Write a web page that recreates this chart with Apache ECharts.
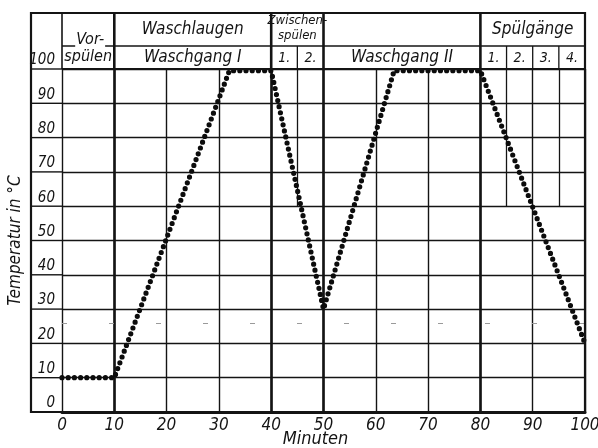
<!DOCTYPE html>
<html>
<head>
<meta charset="utf-8">
<script src="https://cdn.jsdelivr.net/npm/echarts@6/dist/echarts.min.js"></script>
<style>
  html, body { margin: 0; padding: 0; background: #fff; }
  #chart { width: 598px; height: 448px; }
</style>
</head>
<body>
<div id="chart"></div>
<script>
// Temperature course of the wash programme (minutes -> °C)
const minutes = [0, 10, 32, 40, 50, 63.5, 80, 100];
const temps   = [10, 10, 99.5, 99.5, 30, 99.5, 99.5, 20];

// Axis ticks
const xTicks = [0, 10, 20, 30, 40, 50, 60, 70, 80, 90, 100];
const yTicks = [0, 10, 20, 30, 40, 50, 60, 70, 80, 90, 100];

// Phase boundaries (minutes) that get a heavy rule
const phaseBounds = [10, 40, 50, 80];
// Sub-step boundaries inside rinse phases
const stepBounds = [45, 85, 95];
const stepLineBottom = 60;

// Header table: top band labels
const headTop = [
  { from: 10, to: 40, lines: ['Waschlaugen'] },
  { from: 40, to: 50, lines: ['Zwischen-', 'spülen'] },
  { from: 80, to: 100, lines: ['Spülgänge'] }
];
// Header table: lower band labels
const headBottom = [
  { from: 10, to: 40, text: 'Waschgang I' },
  { from: 40, to: 45, text: '1.' },
  { from: 45, to: 50, text: '2.' },
  { from: 50, to: 80, text: 'Waschgang II' },
  { from: 80, to: 85, text: '1.' },
  { from: 85, to: 90, text: '2.' },
  { from: 90, to: 95, text: '3.' },
  { from: 95, to: 100, text: '4.' }
];
// Column spanning both header bands
const headSpan = { from: 0, to: 10, lines: ['Vor-', 'spülen'] };
// Full-height header dividers and lower-band-only dividers
const headFullDiv = [0, 10, 40, 50, 80, 100];
const headLowDiv = [45, 85, 90, 95];

const FONT = '"Liberation Sans Narrow", "DejaVu Sans Condensed", "Liberation Sans", sans-serif';
const INK = '#141414';

// Layout of the table around the plot
const frameLeft = 31;
const frameTop = 13;
const headMid = 46;

const chart = echarts.init(document.getElementById('chart'), null, { renderer: 'canvas' });

const series = [
  {
    type: 'line',
    data: minutes.map((m, i) => [m, temps[i]]),
    symbol: 'none',
    lineStyle: { color: '#0c0c0c', width: 5.2, type: [0, 6.2], cap: 'round' },
    z: 5,
    markLine: {
      silent: true,
      symbol: 'none',
      label: { show: false },
      animation: false,
      data: [
        ...phaseBounds.map(v => ({ xAxis: v, lineStyle: { color: INK, width: 2.6, type: 'solid' } })),
        ...stepBounds.map(v => [
          { coord: [v, 100], lineStyle: { color: INK, width: 1.3, type: 'solid' } },
          { coord: [v, stepLineBottom] }
        ]),
        { yAxis: 26, lineStyle: { color: '#9a9a9a', width: 1, type: [5, 42] } }
      ]
    }
  }
];

chart.setOption({
  animation: false,
  backgroundColor: '#fff',
  grid: { left: 62, right: 13, top: 69, bottom: 36, containLabel: false, outerBoundsMode: 'none' },
  xAxis: {
    type: 'value', min: 0, max: 100, interval: 10,
    axisLine: { show: true, lineStyle: { color: INK, width: 3 } },
    axisTick: { show: false },
    splitLine: { show: true, lineStyle: { color: INK, width: 1.4 } },
    axisLabel: {
      margin: 5, color: INK, fontSize: 17, fontStyle: 'italic', fontFamily: FONT,
      customValues: xTicks
    },
    name: 'Minuten', nameLocation: 'middle', nameGap: 18, nameMoveOverlap: false,
    nameTextStyle: { color: INK, fontSize: 18, fontStyle: 'italic', fontFamily: FONT, padding: [0, 16, 0, 0] }
  },
  yAxis: {
    type: 'value', min: 0, max: 100, interval: 10,
    axisLine: { show: false },
    axisTick: { show: false },
    splitLine: { show: true, lineStyle: { color: INK, width: 1.4 } },
    axisLabel: {
      margin: 7, color: INK, fontSize: 15, fontStyle: 'italic', fontFamily: FONT,
      verticalAlign: 'bottom', padding: [0, 0, 1, 0],
      customValues: yTicks
    },
    name: 'Temperatur in °C', nameLocation: 'middle', nameGap: 38, nameMoveOverlap: false,
    nameTextStyle: { color: INK, fontSize: 17, fontStyle: 'italic', fontFamily: FONT }
  },
  series
});

// Header table and outer frame, positioned from the axis scales
function px(v) { return chart.convertToPixel({ xAxisIndex: 0 }, v); }
function py(v) { return chart.convertToPixel({ yAxisIndex: 0 }, v); }

const plotTop = py(100);
const plotBottom = py(0);
const plotLeft = px(0);
const plotRight = px(100);
const g = [];

function hline(x1, x2, y, w) {
  g.push({ type: 'line', silent: true, z: 10, shape: { x1, y1: y, x2, y2: y }, style: { stroke: INK, lineWidth: w } });
}
function vline(x, y1, y2, w) {
  g.push({ type: 'line', silent: true, z: 10, shape: { x1: x, y1, x2: x, y2 }, style: { stroke: INK, lineWidth: w } });
}
function label(x, y, text, size, extra) {
  g.push({
    type: 'text', silent: true, z: 20, x, y,
    style: Object.assign({
      text, fill: INK, font: 'italic ' + size + 'px ' + FONT,
      align: 'center', verticalAlign: 'middle'
    }, extra || {})
  });
}

// horizontal rules across the tick-label column
yTicks.forEach(v => hline(frameLeft, plotLeft, py(v), 1.4));
// heavier rule under the header
hline(plotLeft, plotRight, plotTop, 2);
// middle rule of the header
hline(plotLeft, plotRight, headMid, 1.4);

// header dividers
headFullDiv.forEach(v => vline(px(v), frameTop, plotTop, (v === 0 || v === 100) ? 1.6 : 2.6));
headLowDiv.forEach(v => vline(px(v), headMid, plotTop, 1.3));

// outer frame
g.push({
  type: 'rect', silent: true, z: 11,
  shape: { x: frameLeft, y: frameTop, width: plotRight - frameLeft, height: plotBottom - frameTop },
  style: { fill: null, stroke: INK, lineWidth: 2.2 }
});

// header text
headTop.forEach(h => {
  const cx = (px(h.from) + px(h.to)) / 2;
  if (h.lines.length === 1) {
    label(cx, 30, h.lines[0], 17);
  } else {
    label(cx, 21, h.lines[0], 13);
    label(cx, 36, h.lines[1], 13);
  }
});
headBottom.forEach(h => {
  const cx = (px(h.from) + px(h.to)) / 2;
  label(cx, 58, h.text, h.text.length > 2 ? 17 : 14);
});
{
  const cx = (px(headSpan.from) + px(headSpan.to)) / 2;
  label(cx + 2, 40, headSpan.lines[0], 16, { backgroundColor: '#fff', padding: [0, 1, 0, 1] });
  label(cx, 57, headSpan.lines[1], 16);
}

chart.setOption({ graphic: g });
</script>
</body>
</html>
